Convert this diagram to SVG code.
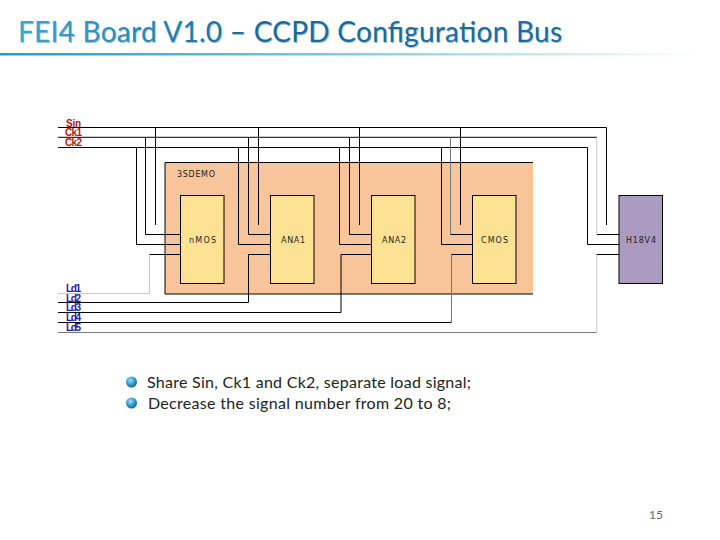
<svg xmlns="http://www.w3.org/2000/svg" width="720" height="540" viewBox="0 0 720 540">
<style>
.w{fill:none;stroke:#000;stroke-width:1}
.d{fill:none;stroke:#333;stroke-width:1.200}
.lg{fill:none;stroke:#c8c8c8;stroke-width:1}
.g{fill:none;stroke:#777;stroke-width:1}
.b{stroke:#000;stroke-width:1}
.l{font-family:"DejaVu Sans",sans-serif;font-size:8px;fill:#222}
.r{font-family:"Liberation Sans",sans-serif;font-size:10px;font-weight:bold;fill:#b01818}
.u{font-family:"Liberation Sans",sans-serif;font-size:10px;font-weight:bold;fill:#1a1aa8}
.t{font-family:Lato,"Noto Sans",sans-serif;font-size:16px;fill:#222}
.h{font-family:Lato,"Noto Sans",sans-serif;font-size:28px}
</style>
<defs>
<linearGradient id="rule" x1="0" x2="1" y1="0" y2="0"><stop offset="0" stop-color="#1f9ccb"/><stop offset=".4" stop-color="#6cc4df"/><stop offset=".97" stop-color="#ffffff"/></linearGradient>
<linearGradient id="tt" gradientUnits="userSpaceOnUse" x1="18" x2="562" y1="0" y2="0"><stop offset="0" stop-color="#35a8d6"/><stop offset=".45" stop-color="#17699f"/><stop offset="1" stop-color="#1a6ba3"/></linearGradient>
<radialGradient id="ball" cx=".4" cy=".35" r=".7"><stop offset="0" stop-color="#9ee0f2"/><stop offset=".6" stop-color="#2b94cc"/><stop offset="1" stop-color="#13608f"/></radialGradient>
</defs>
<g id="title">
<text class="h" x="18.800" y="42.800" fill="#a9bec8" textLength="544">FEI4 Board V1.0 – CCPD Configuration Bus</text>
<text class="h" x="18" y="42" fill="url(#tt)" textLength="544">FEI4 Board V1.0 – CCPD Configuration Bus</text>
<rect x="0" y="53" width="720" height="2.500" fill="url(#rule)"/>
</g>
<g id="demo"><rect x="165" y="162.500" width="368" height="131.500" fill="#f8c59b"/><path class="w" d="M165 294V162.500H533M165 294H533"/><text class="l" x="177" y="177" textLength="38">3SDEMO</text></g>
<g id="nmos"><rect class="b" x="180.500" y="195.500" width="43.500" height="88" fill="#fde293"/><text class="l" x="189" y="243" textLength="27">nMOS</text></g>
<g id="ana1"><rect class="b" x="270.500" y="195.500" width="43.500" height="88" fill="#fde293"/><text class="l" x="281" y="243" textLength="24">ANA1</text></g>
<g id="ana2"><rect class="b" x="371.500" y="195.500" width="43.500" height="88" fill="#fde293"/><text class="l" x="382" y="243" textLength="24">ANA2</text></g>
<g id="cmos"><rect class="b" x="472.500" y="195.500" width="43.500" height="88" fill="#fde293"/><text class="l" x="481" y="243" textLength="27">CMOS</text></g>
<g id="h18v4"><rect class="b" x="619" y="195.500" width="43.500" height="88" fill="#ab9bc1"/><text class="l" x="626" y="243" textLength="30">H18V4</text></g>
<g id="connectors">
<path class="w" d="M58 127.500H606.500V225"/><path class="d" d="M58 137.300H597"/><path class="w" d="M58 147.500H587.500V244.500H619"/>
<path class="lg" d="M596.700 137.500V234.500"/><path class="b" d="M597 234.500H619"/>
<path class="w" d="M155.500 127.500V225M145.500 137.500V234.500H180M136.500 147.500V244.500H180"/>
<path class="w" d="M258.500 127.500V225M248.500 137.500V234.500H270M238.500 147.500V244.500H270"/>
<path class="w" d="M359.500 127.500V225M349.500 137.500V234.500H371M339.500 147.500V244.500H371"/>
<path class="w" d="M460.500 127.500V225M441.500 147.500V244.500H472"/>
<path class="g" d="M450.500 137.500V234.500"/><path class="w" d="M450.500 234.500H472"/>
<path class="lg" d="M58 293.500H149.500V254.500"/><path class="w" d="M149.500 254.500H180"/>
<path class="w" d="M58 302.500H248.500V254.500H270"/>
<path class="w" d="M58 312.500H341V254.500H371"/>
<path class="w" d="M58 322.500H451.500"/><path class="g" d="M451.500 322.500V254.500"/><path class="w" d="M451.500 254.500H472"/>
<path class="g" d="M58 332.500H596.700"/><path class="lg" d="M596.700 332.500V254.500"/><path class="w" d="M596.700 254.500H619"/>
</g>
<g id="signals">
<text class="r" x="66" y="126.500" textLength="15">Sin</text><text class="r" x="65" y="136" textLength="17">Ck1</text><text class="r" x="65" y="146" textLength="17">Ck2</text>
<text class="u" x="66" y="292" textLength="15">Ld1</text><text class="u" x="66" y="301.500" textLength="15">Ld2</text><text class="u" x="66" y="311" textLength="15">Ld3</text><text class="u" x="66" y="321" textLength="15">Ld4</text><text class="u" x="66" y="331" textLength="15">Ld5</text>
</g>
<g id="notes">
<circle cx="131.500" cy="382" r="5.500" fill="url(#ball)"/><circle cx="131.500" cy="403" r="5.500" fill="url(#ball)"/>
<text class="t" x="147" y="387.500" textLength="324">Share Sin, Ck1 and Ck2, separate load signal;</text>
<text class="t" x="148" y="408.500" textLength="303">Decrease the signal number from 20 to 8;</text>
<text x="649" y="519" font-family="Lato,Noto Sans,sans-serif" font-size="12" fill="#666" textLength="14">15</text>
</g>
</svg>
